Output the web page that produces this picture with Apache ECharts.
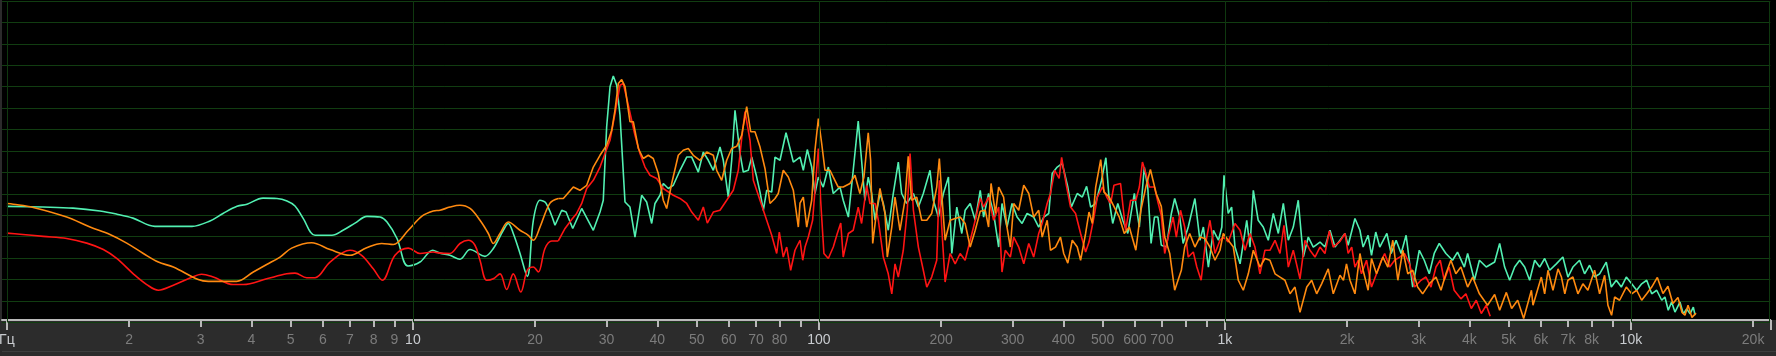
<!DOCTYPE html>
<html>
<head>
<meta charset="utf-8">
<script src="https://cdn.jsdelivr.net/npm/echarts@6/dist/echarts.min.js"></script>
<style>
  html, body { margin: 0; padding: 0; background: #000; }
  #chart {
    width: 1776px; height: 356px;
    background:
      linear-gradient(to right, #2b2b2b 0, #2b2b2b 2px, transparent 2px),
      linear-gradient(to bottom, #000 0, #000 320px, #2c2c2c 320px, #2c2c2c 351px, #3e3e3e 351px, #3e3e3e 352px, #2c2c2c 352px);
  }
</style>
</head>
<body>
<div id="chart"></div>
<script>
// ---- axis definitions (Hz) ----
const tickFreqs = [1,2,3,4,5,6,7,8,9,10,20,30,40,50,60,70,80,90,100,200,300,400,500,600,700,800,900,1000,2000,3000,4000,5000,6000,7000,8000,9000,10000,20000];
const majorTickFreqs = [1,10,100,1000,10000,22050];
const labelFreqs = [1,2,3,4,5,6,7,8,9,10,20,30,40,50,60,70,80,100,200,300,400,500,600,700,1000,2000,3000,4000,5000,6000,7000,8000,10000,20000];
const brightLabels = [1,10,100,1000,10000];
const gridFreqs = [1,10,100,1000,10000,22050];
const freqMin = 0.9726;   // left edge of plot (Hz)
const freqMax = 22050;    // right edge of plot (Hz)
const smoothUpTo = 22;    // Hz: below this the analyser curves are smooth
const levelMin = -90, levelMax = 0, levelStep = 6; // dB

// ---- spectra: [frequency Hz, level dB] ----
const cyanData = [[1,-57.5],[1.227,-57.7],[1.455,-58.0],[1.696,-58.8],[1.867,-59.7],[2.045,-60.8],[2.316,-63.1],[2.857,-63.1],[3.164,-61.6],[3.406,-59.5],[3.688,-57.5],[3.903,-56.9],[4.274,-55.2],[4.627,-55.3],[4.896,-56.0],[5.124,-57.4],[5.362,-60.8],[5.741,-65.6],[6.319,-65.6],[6.727,-64.2],[7.201,-62.2],[7.707,-60.3],[8.299,-60.5],[8.635,-61.9],[9.138,-66.5],[9.725,-74.2],[10.41,-73.1],[11.19,-69.8],[11.66,-70.6],[12.34,-71.2],[13.06,-72.3],[13.83,-69.6],[15.05,-71.5],[15.78,-69.3],[16.70,-64.2],[17.18,-62.3],[17.67,-65.1],[18.36,-70.7],[19.13,-77.1],[19.80,-61.4],[20.56,-55.8],[21.27,-56.6],[22.39,-62.8],[23.26,-58.6],[23.84,-59.1],[24.76,-63.7],[26.05,-58.1],[27.82,-64.2],[28.90,-59.1],[29.44,-55.8],[30.01,-35.2],[30.59,-24.0],[31.16,-21.0],[31.77,-23.6],[32.37,-32.0],[33.30,-56.3],[34.25,-57.7],[35.24,-66.1],[36.60,-54.4],[37.65,-56.3],[38.74,-62.3],[39.47,-56.7],[40.61,-54.4],[41.38,-51.1],[42.57,-52.5],[43.79,-51.6],[45.49,-47.4],[47.25,-43.7],[48.61,-43.7],[50.47,-47.9],[51.92,-42.3],[53.41,-44.6],[54.95,-47.4],[57.07,-40.9],[58.15,-44.6],[59.82,-54.9],[60.99,-44.6],[62.14,-30.6],[63.93,-42.7],[65.14,-47.9],[67.01,-47.4],[68.32,-43.7],[70.28,-49.3],[71.61,-53.5],[72.97,-58.6],[74.38,-53.0],[76.52,-53.5],[77.97,-43.7],[80.21,-44.6],[82.99,-36.9],[84.90,-41.3],[86.50,-45.1],[89.85,-43.7],[91.55,-47.4],[93.63,-41.6],[96.0,-46.5],[97.8,-53.9],[99.7,-49.3],[102.5,-52.1],[105.5,-46.5],[108.5,-53.9],[110.6,-53.0],[112.7,-52.1],[114.8,-55.8],[118.2,-60.5],[121.5,-47.4],[125.0,-33.6],[127.4,-44.6],[129.8,-55.8],[132.3,-49.3],[134.9,-53.9],[137.5,-61.4],[141.4,-53.9],[144.1,-56.7],[148.2,-64.2],[152.5,-53.9],[156.9,-45.1],[159.9,-53.9],[164.5,-56.7],[170.9,-53.9],[175.8,-57.7],[180.8,-53.9],[187.8,-47.4],[191.4,-55.8],[196.9,-60.5],[202.6,-53.9],[208.5,-49.3],[212.5,-70.7],[218.6,-57.7],[224.9,-65.1],[229.2,-58.6],[235.9,-56.7],[242.7,-61.4],[249.7,-53.0],[254.5,-60.5],[261.8,-53.9],[269.4,-59.5],[277.2,-68.9],[282.5,-56.7],[290.6,-63.3],[299.0,-56.7],[307.7,-60.5],[316.6,-62.3],[325.7,-59.5],[338.1,-60.5],[347.9,-63.3],[358.0,-60.5],[368.3,-59.5],[375.5,-48.3],[386.4,-46.5],[397.5,-45.5],[410.3,-52.1],[418.4,-57.7],[432.9,-53.9],[445.5,-54.9],[456.5,-51.9],[467.1,-57.7],[480.6,-56.7],[496.8,-50.2],[509.2,-43.9],[519.0,-55.8],[529.3,-62.3],[544.8,-56.7],[560.4,-61.4],[576.5,-65.1],[598.4,-53.9],[615.6,-63.3],[633.2,-46.5],[645.6,-52.1],[658.0,-67.9],[670.8,-60.5],[684.0,-60.5],[697.2,-68.4],[717.6,-68.9],[738.2,-59.5],[752.3,-55.3],[774.0,-60.5],[789.1,-67.9],[812.3,-63.3],[843.7,-55.3],[868.0,-67.0],[885.2,-63.3],[910.7,-74.5],[937.1,-64.2],[964.3,-67.0],[982.9,-63.3],[995,-48.8],[1019,-59.5],[1039,-57.7],[1059,-68.9],[1090,-73.6],[1132,-61.4],[1153,-68.9],[1175,-53.0],[1208,-61.4],[1243,-63.3],[1279,-67.0],[1316,-59.5],[1354,-65.1],[1393,-56.7],[1433,-67.0],[1474,-63.3],[1516,-55.8],[1560,-71.7],[1605,-66.1],[1651,-68.9],[1715,-67.5],[1764,-68.9],[1815,-64.2],[1867,-68.9],[1921,-67.0],[1976,-65.1],[2012,-68.4],[2091,-60.9],[2151,-64.2],[2190,-68.9],[2253,-65.6],[2297,-71.2],[2353,-64.7],[2407,-68.9],[2506,-65.1],[2568,-70.7],[2641,-67.0],[2717,-70.7],[2795,-65.6],[2901,-80.1],[3012,-69.8],[3098,-72.6],[3187,-76.4],[3278,-70.7],[3373,-67.9],[3503,-70.7],[3637,-72.6],[3741,-70.3],[3889,-74.5],[3962,-70.7],[4117,-78.2],[4236,-72.6],[4403,-74.5],[4618,-73.1],[4751,-67.9],[4887,-74.5],[5028,-78.2],[5173,-74.5],[5322,-72.6],[5475,-74.5],[5632,-78.2],[5795,-72.6],[5961,-74.5],[6133,-72.1],[6310,-75.4],[6551,-73.6],[6800,-71.7],[6997,-77.3],[7198,-74.5],[7476,-72.6],[7691,-76.4],[7913,-74.0],[8141,-77.3],[8375,-76.4],[8697,-73.1],[8948,-80.1],[9206,-78.2],[9471,-80.1],[9744,-77.3],[10045,-79.2],[10334,-81.0],[10632,-79.2],[10939,-78.2],[11254,-82.0],[11578,-81.0],[11912,-83.8],[12130,-82.9],[12360,-86.6],[12600,-84.3],[12840,-87.1],[13210,-84.3],[13460,-87.6],[13720,-86.2],[13990,-87.6],[14250,-85.7],[14390,-88.0]];

const orangeData = [[1,-56.7],[1.037,-56.9],[1.161,-57.8],[1.404,-60.5],[1.602,-63.3],[1.794,-65.4],[1.973,-67.8],[2.168,-70.7],[2.360,-73.1],[2.570,-74.5],[2.960,-78.0],[3.134,-78.5],[3.681,-78.5],[4.045,-75.9],[4.364,-73.8],[4.707,-71.7],[5.028,-69.2],[5.633,-67.7],[6.250,-69.6],[7.000,-71.2],[7.694,-69.1],[8.381,-67.9],[8.946,-68.2],[9.743,-64.2],[10.51,-60.3],[11.22,-58.8],[11.66,-58.6],[12.34,-57.7],[13.06,-57.2],[13.83,-58.1],[14.63,-61.4],[15.34,-65.1],[15.78,-67.9],[16.39,-65.1],[17.18,-61.9],[18.36,-64.2],[19.24,-65.6],[19.80,-67.0],[20.56,-63.3],[21.76,-56.6],[22.81,-55.3],[23.47,-55.3],[24.84,-52.1],[25.79,-53.0],[26.80,-51.6],[27.82,-46.5],[28.90,-43.2],[30.01,-40.4],[30.88,-36.2],[31.46,-30.6],[32.06,-23.1],[32.68,-22.0],[33.30,-24.0],[34.25,-33.8],[34.90,-33.8],[35.92,-41.3],[36.94,-44.1],[38.00,-43.2],[39.09,-44.1],[40.22,-48.3],[41.38,-55.8],[42.18,-58.1],[43.39,-51.1],[45.05,-43.2],[46.34,-41.8],[47.68,-41.3],[49.05,-43.2],[50.94,-44.6],[52.92,-42.3],[54.95,-43.2],[56.02,-47.4],[57.63,-50.2],[59.28,-44.6],[60.99,-41.3],[62.74,-40.7],[64.54,-37.6],[66.40,-29.6],[67.92,-36.6],[69.59,-36.6],[71.61,-40.9],[73.66,-46.9],[75.78,-56.7],[77.97,-55.3],[79.43,-53.9],[81.71,-47.4],[84.08,-49.3],[86.50,-53.0],[88.99,-63.3],[89.85,-56.6],[91.55,-54.9],[93.33,-63.3],[96.0,-55.8],[97.8,-41.8],[99.7,-32.9],[101.6,-39.9],[103.5,-47.4],[106.5,-47.4],[108.5,-49.3],[111.6,-52.1],[114.8,-52.1],[119.3,-51.1],[122.7,-48.8],[126.2,-53.9],[129.1,-49.3],[132.3,-36.9],[134.1,-44.6],[135.7,-67.9],[138.8,-58.6],[141.4,-52.5],[145.5,-59.5],[147.4,-71.7],[151.2,-63.3],[154.0,-54.9],[158.4,-64.2],[162.9,-55.8],[166.0,-43.5],[169.2,-55.8],[174.2,-54.9],[179.2,-61.4],[184.4,-61.4],[189.6,-59.5],[195.1,-52.1],[198.0,-44.1],[200.7,-53.9],[204.6,-67.0],[210.5,-61.4],[216.6,-60.9],[222.8,-60.5],[229.2,-62.3],[235.9,-68.9],[242.7,-64.2],[249.7,-58.9],[256.9,-58.6],[261.8,-63.3],[265.5,-51.1],[272.2,-59.5],[277.2,-52.1],[285.1,-54.9],[290.6,-63.3],[296.2,-68.9],[301.9,-56.7],[310.6,-58.6],[319.6,-51.6],[328.8,-53.9],[338.1,-60.5],[347.9,-58.6],[354.8,-66.1],[365.0,-61.4],[371.9,-69.8],[382.6,-68.9],[393.6,-66.1],[400.9,-70.7],[410.3,-73.4],[420.8,-67.0],[432.9,-68.9],[441.2,-72.6],[453.9,-65.1],[462.7,-59.1],[471.6,-62.3],[480.6,-52.1],[494.5,-44.4],[503.8,-53.5],[519.0,-54.9],[534.0,-57.7],[549.4,-60.5],[565.2,-65.1],[581.5,-63.3],[603.5,-69.8],[620.9,-58.6],[638.8,-52.1],[655.5,-47.2],[677.3,-53.9],[697.2,-57.5],[710.9,-66.1],[731.4,-70.7],[752.3,-81.0],[766.6,-78.2],[781.2,-75.4],[796.2,-68.9],[819.1,-65.1],[843.7,-68.9],[868.0,-66.1],[893.0,-66.5],[918.8,-68.9],[945.3,-72.6],[972.5,-69.8],[991,-65.1],[1019,-67.0],[1049,-68.9],[1079,-78.2],[1110,-81.0],[1142,-76.4],[1175,-69.8],[1220,-74.5],[1255,-72.1],[1291,-72.6],[1329,-76.4],[1367,-77.3],[1406,-78.2],[1447,-82.0],[1488,-80.1],[1531,-87.2],[1591,-80.1],[1636,-78.2],[1683,-82.0],[1731,-79.2],[1797,-75.0],[1849,-82.0],[1921,-76.8],[1959,-78.2],[1993,-73.6],[2033,-78.2],[2091,-82.0],[2151,-70.7],[2190,-75.4],[2253,-81.0],[2297,-72.1],[2363,-76.4],[2450,-71.7],[2520,-74.5],[2592,-67.0],[2667,-78.2],[2743,-69.8],[2822,-76.4],[2901,-75.4],[2984,-80.1],[3070,-82.0],[3187,-79.2],[3311,-77.3],[3406,-81.0],[3503,-76.4],[3603,-72.6],[3706,-76.4],[3813,-74.5],[3962,-80.1],[4076,-77.3],[4236,-82.0],[4436,-85.2],[4618,-82.2],[4751,-86.6],[4935,-81.6],[5085,-86.1],[5262,-83.8],[5444,-88.9],[5689,-81.0],[5740,-85.2],[6018,-77.3],[6133,-82.0],[6249,-75.4],[6429,-81.0],[6615,-75.0],[6745,-77.3],[6875,-82.0],[6997,-78.2],[7198,-77.3],[7405,-82.0],[7618,-79.2],[7837,-81.0],[8141,-75.4],[8375,-82.0],[8616,-76.8],[8780,-85.2],[8963,-88.0],[9119,-82.9],[9381,-83.8],[9744,-80.1],[10045,-82.0],[10334,-81.0],[10632,-83.8],[10939,-82.0],[11254,-80.1],[11620,-77.4],[11995,-81.9],[12340,-79.9],[12690,-84.7],[13060,-83.0],[13360,-87.2],[13590,-88.0],[13830,-85.2],[14140,-88.6],[14470,-87.4]];

const redData = [[1,-65.0],[1.077,-65.3],[1.229,-65.9],[1.404,-66.5],[1.573,-67.8],[1.728,-69.6],[1.864,-72.1],[2.048,-76.4],[2.210,-79.4],[2.360,-81.0],[2.570,-79.6],[2.825,-77.6],[3.018,-76.5],[3.224,-77.3],[3.612,-79.4],[3.823,-79.4],[4.364,-77.8],[4.888,-76.4],[5.124,-76.2],[5.475,-77.5],[5.741,-77.5],[6.250,-73.1],[7.000,-69.8],[7.478,-71.2],[7.988,-75.0],[8.408,-78.2],[9.035,-71.2],[9.743,-69.2],[10.41,-70.7],[11.22,-70.3],[11.66,-70.6],[12.34,-70.7],[13.06,-67.9],[13.69,-67.0],[14.22,-68.4],[14.63,-72.6],[15.20,-78.2],[15.78,-77.8],[16.39,-76.4],[17.02,-80.8],[17.67,-76.4],[18.44,-81.5],[19.13,-75.4],[19.80,-74.5],[20.37,-75.9],[21.15,-69.3],[21.98,-67.2],[22.81,-67.2],[23.70,-63.7],[24.61,-61.2],[25.31,-59.5],[26.05,-56.7],[26.80,-52.5],[27.82,-50.2],[28.90,-46.5],[29.73,-42.7],[30.59,-39.0],[31.46,-31.5],[32.37,-23.6],[32.98,-23.1],[33.93,-29.2],[35.24,-37.6],[36.25,-42.7],[37.30,-46.5],[38.37,-48.8],[39.86,-49.7],[41.38,-52.5],[43.79,-54.4],[45.49,-55.3],[47.25,-56.7],[48.61,-59.1],[50.47,-61.4],[51.92,-57.7],[53.11,-62.2],[54.95,-59.1],[57.07,-58.6],[59.28,-55.8],[61.54,-53.0],[63.32,-47.4],[64.54,-38.5],[65.77,-31.0],[67.66,-39.0],[68.94,-50.2],[71.61,-55.8],[74.38,-61.4],[76.52,-65.6],[78.72,-70.7],[79.89,-64.7],[81.71,-71.7],[83.31,-68.9],[85.21,-75.4],[87.32,-69.8],[89.85,-67.0],[91.24,-72.6],[92.44,-68.9],[94.18,-66.1],[96.5,-61.4],[98.4,-49.3],[99.7,-41.3],[101.0,-55.8],[102.9,-70.7],[105.5,-72.1],[108.5,-68.9],[111.0,-65.1],[113.2,-62.2],[114.8,-71.7],[118.2,-65.1],[121.5,-64.2],[125.0,-57.7],[127.4,-62.3],[131.1,-51.6],[133.6,-56.7],[137.5,-56.7],[140.1,-61.4],[144.1,-71.7],[148.2,-76.4],[151.2,-82.0],[154.0,-73.6],[156.9,-77.3],[161.4,-69.8],[165.1,-58.6],[167.7,-42.7],[170.9,-58.6],[175.8,-68.9],[180.8,-75.4],[184.4,-80.1],[189.6,-77.3],[195.1,-72.6],[198.0,-50.2],[200.7,-63.3],[204.6,-78.7],[210.5,-70.7],[216.6,-73.6],[222.8,-70.7],[229.2,-72.6],[235.9,-67.0],[242.7,-61.4],[249.7,-55.2],[254.5,-57.7],[261.8,-54.9],[269.4,-61.4],[277.2,-57.7],[282.5,-75.9],[287.8,-69.8],[296.2,-71.7],[301.9,-66.1],[310.6,-68.9],[319.6,-73.6],[328.8,-67.9],[338.1,-71.7],[347.9,-65.1],[354.8,-62.3],[365.0,-56.7],[371.9,-53.9],[380.8,-47.4],[390.6,-49.7],[396.2,-43.8],[406.2,-51.1],[416.7,-57.7],[428.8,-59.5],[441.2,-65.1],[453.9,-70.3],[462.7,-67.5],[476.0,-60.5],[485.1,-54.9],[499.3,-52.1],[511.6,-54.9],[523.3,-56.7],[533.0,-51.6],[553.4,-51.1],[569.4,-64.2],[585.8,-55.8],[603.5,-55.8],[615.6,-52.1],[626.5,-45.1],[638.8,-48.3],[651.5,-52.1],[670.8,-52.1],[684.0,-56.3],[697.2,-60.0],[710.9,-70.7],[724.8,-66.1],[745.5,-60.5],[759.3,-66.1],[777.5,-58.6],[796.2,-63.3],[812.3,-71.7],[836.0,-70.3],[852.9,-74.5],[874.0,-78.2],[893.0,-68.9],[918.8,-61.4],[945.3,-70.7],[972.5,-67.0],[991,-66.1],[1019,-67.5],[1059,-62.3],[1090,-64.2],[1121,-69.8],[1153,-65.1],[1186,-68.9],[1220,-76.4],[1255,-69.8],[1291,-69.8],[1329,-67.0],[1367,-70.7],[1398,-62.8],[1433,-74.5],[1474,-69.8],[1531,-77.8],[1575,-67.0],[1620,-69.8],[1667,-71.7],[1715,-68.9],[1764,-70.7],[1808,-64.4],[1849,-68.9],[1921,-67.3],[1976,-65.1],[2012,-70.7],[2053,-68.9],[2091,-74.5],[2131,-72.6],[2170,-76.4],[2233,-72.6],[2297,-80.1],[2363,-76.4],[2430,-72.6],[2475,-70.7],[2546,-74.5],[2619,-72.6],[2694,-71.7],[2771,-70.7],[2851,-73.6],[2933,-80.1],[3041,-78.2],[3128,-77.3],[3218,-80.1],[3311,-74.5],[3392,-72.6],[3469,-78.2],[3568,-74.5],[3671,-81.0],[3813,-83.4],[3923,-82.0],[4045,-86.1],[4161,-83.8],[4281,-87.5],[4404,-85.2],[4503,-88.3]];

const seriesDefs = [
  { name: 'L', data: cyanData, color: '#52f0b2' },
  { name: 'S', data: redData, color: '#ff1414' },
  { name: 'R', data: orangeData, color: '#ff8a10' }
];

const lg = f => Math.log10(f);
const fmtFreq = f => f === 1 ? 'Гц' : (f >= 1000 ? (f / 1000) + 'k' : String(f));

const chart = echarts.init(document.getElementById('chart'), null, { renderer: 'canvas' });
const xMin = lg(freqMin), xMax = lg(freqMax);
const labelFont = { fontFamily: 'Liberation Sans, Arial, sans-serif', fontSize: 14 };

function lineSeries(s, pts, smooth) {
  return {
    name: s.name, type: 'line', xAxisIndex: 0,
    data: pts.map(p => [lg(p[0]), p[1]]),
    showSymbol: false, symbol: 'none', smooth: smooth, clip: true,
    lineStyle: { color: s.color, width: 1.6 },
    emphasis: { disabled: true }, silent: true
  };
}

const series = [{
  type: 'line', xAxisIndex: 0, data: [], silent: true, z: 1,
  markLine: {
    silent: true, symbol: 'none', animation: false,
    label: { show: false },
    lineStyle: { color: '#0f380f', width: 1, type: 'solid' },
    emphasis: { disabled: true },
    data: gridFreqs.map(f => ({ xAxis: lg(f) }))
  }
}];
seriesDefs.forEach(s => {
  const cut = s.data.findIndex(p => p[0] > smoothUpTo);
  series.push(lineSeries(s, s.data.slice(0, cut + 1), 0.35));
  series.push(lineSeries(s, s.data.slice(cut), false));
});

const option = {
  backgroundColor: 'transparent',
  animation: false,
  grid: { left: 2, right: 5.7, top: 1, bottom: 33.6, containLabel: false, outerBoundsMode: 'none' },
  xAxis: [
    {
      type: 'value', position: 'bottom', min: xMin, max: xMax, offset: -2.4,
      axisLine: { show: true, onZero: false, lineStyle: { color: '#b9b9b9', width: 2 } },
      axisTick: { show: true, length: 7, customValues: tickFreqs.map(lg), lineStyle: { color: '#b9b9b9', width: 2 } },
      axisLabel: {
        show: true, margin: 13, customValues: labelFreqs.map(lg), hideOverlap: false,
        formatter: v => {
          const f = Math.round(Math.pow(10, v));
          return (brightLabels.includes(f) ? '{hi|' : '{lo|') + fmtFreq(f) + '}';
        },
        rich: {
          hi: Object.assign({ color: '#c9ccd0' }, labelFont),
          lo: Object.assign({ color: '#7c7c7c' }, labelFont)
        }
      },
      splitLine: { show: false }
    },
    {
      type: 'value', position: 'bottom', min: xMin, max: xMax, offset: -2.4,
      axisLine: { show: false, onZero: false },
      axisTick: { show: true, length: 10, customValues: majorTickFreqs.map(lg), lineStyle: { color: '#b9b9b9', width: 2 } },
      axisLabel: { show: false },
      splitLine: { show: false }
    }
  ],
  yAxis: {
    type: 'value', min: levelMin, max: levelMax, interval: levelStep,
    axisLine: { show: false }, axisTick: { show: false }, axisLabel: { show: false },
    splitLine: { show: true, lineStyle: { color: '#113d11', width: 1 } }
  },
  series: series
};
chart.setOption(option);
</script>
</body>
</html>
